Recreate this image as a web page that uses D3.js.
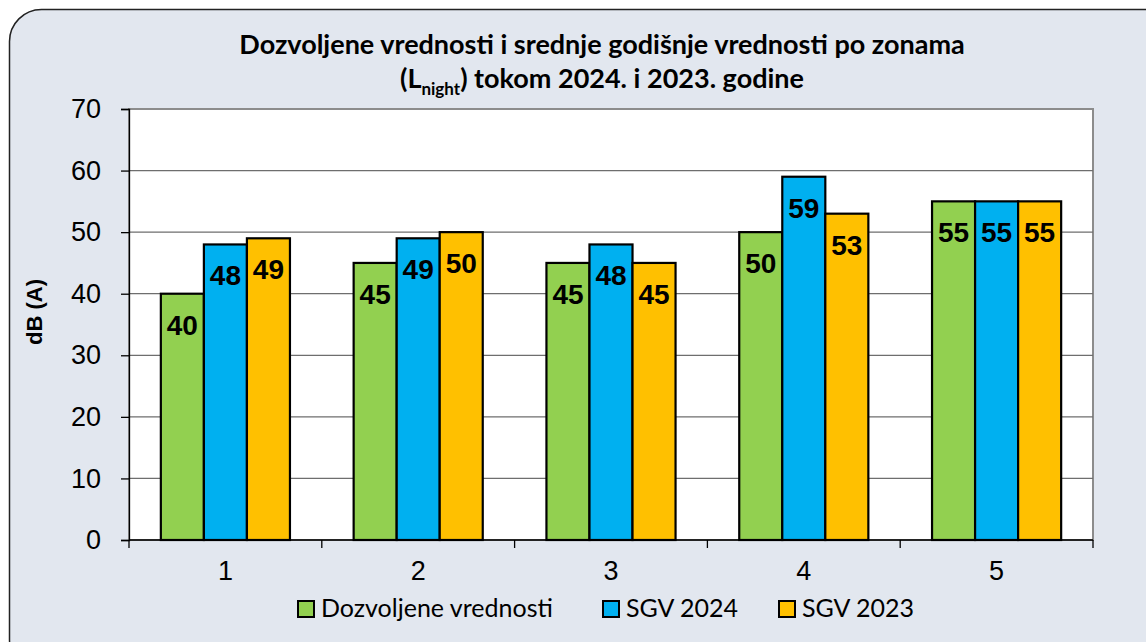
<!DOCTYPE html>
<html>
<head>
<meta charset="utf-8">
<script src="https://cdn.jsdelivr.net/npm/d3@7"></script>
<style>
  html, body { margin: 0; padding: 0; background: #fff; }
  svg { display: block; }
</style>
</head>
<body>
<div id="chart"></div>
<script>
// zones on the x axis
var zones = ["1", "2", "3", "4", "5"];
// series
var seriesNames = ["Dozvoljene vrednosti", "SGV 2024", "SGV 2023"];
var dozvoljene = [40, 45, 45, 50, 55];
var sgv2024 = [48, 49, 48, 59, 55];
var sgv2023 = [49, 50, 45, 53, 55];
var yTicks = [0, 10, 20, 30, 40, 50, 60, 70];
var colors = ["#92D050", "#00B0F0", "#FFC000"];

var W = 1146, H = 642;
var margin = {top: 109, right: 53, bottom: 102, left: 129},
    width = W - margin.left - margin.right,
    height = H - margin.top - margin.bottom;

var svg = d3.select("#chart").append("svg")
    .attr("width", W)
    .attr("height", H);

// panel background
svg.append("rect")
    .attr("x", 9.5).attr("y", 9.5)
    .attr("width", W + 20).attr("height", H + 20)
    .attr("rx", 32).attr("ry", 32)
    .style("fill", "#E2E7EF")
    .style("stroke", "#222")
    .style("stroke-width", 1.5);

// title
var title = svg.append("text")
    .attr("text-anchor", "middle")
    .style("font-family", "Lato, 'Open Sans', sans-serif")
    .style("font-weight", "bold")
    .style("font-size", "27px")
    .style("fill", "#000");
title.append("tspan").attr("x", 602).attr("y", 54)
    .text("Dozvoljene vrednosti i srednje godišnje vrednosti po zonama");
var t2 = title.append("tspan").attr("x", 602).attr("y", 88);
t2.append("tspan").text("(L");
t2.append("tspan").attr("dy", 7).style("font-size", "17px").text("night");
t2.append("tspan").attr("dy", -7).text(") tokom 2024. i 2023. godine");

var g = svg.append("g")
    .attr("transform", "translate(" + margin.left + "," + margin.top + ")");

// plot area
g.append("rect")
    .attr("width", width).attr("height", height)
    .style("fill", "#fff")
    .style("stroke", "#8c8c8c")
    .style("stroke-width", 2);

var x0 = d3.scaleBand().domain(zones).range([0, width]);
var x1 = d3.scaleBand().domain(seriesNames).range([0, x0.bandwidth()])
    .paddingInner(0).paddingOuter(0.74);
var y = d3.scaleLinear().domain([0, 70]).range([height, 0]);

// gridlines
g.append("g").selectAll("line")
    .data(yTicks.filter(function(d) { return d > 0 && d < 70; }))
    .enter().append("line")
    .attr("x1", 0).attr("x2", width)
    .attr("y1", function(d) { return y(d); })
    .attr("y2", function(d) { return y(d); })
    .style("stroke", "#6e6e6e")
    .style("stroke-width", 1.3);

// y axis
var yAxis = g.append("g")
    .call(d3.axisLeft(y).tickValues(yTicks).tickSize(8).tickPadding(20));
yAxis.select(".domain").style("stroke", "#000").style("stroke-width", 1.3);
yAxis.selectAll(".tick line").style("stroke", "#000").style("stroke-width", 1.3);
yAxis.selectAll("text")
    .style("font-family", "Arial, 'Liberation Sans', sans-serif")
    .style("font-size", "27px")
    .style("fill", "#000");

// x axis, ticks at category boundaries
var xAxis = g.append("g")
    .attr("transform", "translate(0," + height + ")");
xAxis.append("line")
    .attr("x1", 0).attr("x2", width)
    .style("stroke", "#000").style("stroke-width", 1.3);
xAxis.selectAll("line.tk")
    .data(zones.concat(["end"]))
    .enter().append("line")
    .attr("class", "tk")
    .attr("x1", function(d) { return d == "end" ? width : x0(d); })
    .attr("x2", function(d) { return d == "end" ? width : x0(d); })
    .attr("y1", 0).attr("y2", 8)
    .style("stroke", "#000").style("stroke-width", 1.3);
xAxis.selectAll("text")
    .data(zones)
    .enter().append("text")
    .attr("x", function(d) { return x0(d) + x0.bandwidth() / 2; })
    .attr("y", 40)
    .attr("text-anchor", "middle")
    .style("font-family", "Arial, 'Liberation Sans', sans-serif")
    .style("font-size", "27px")
    .text(function(d) { return d; });

// bars
var rows = zones.map(function(z, i) {
  return {zone: z, values: [
    {key: seriesNames[0], value: dozvoljene[i], color: colors[0]},
    {key: seriesNames[1], value: sgv2024[i], color: colors[1]},
    {key: seriesNames[2], value: sgv2023[i], color: colors[2]}
  ]};
});

var groups = g.selectAll("g.zone")
    .data(rows)
    .enter().append("g")
    .attr("class", "zone")
    .attr("transform", function(d) { return "translate(" + x0(d.zone) + ",0)"; });

groups.selectAll("rect")
    .data(function(d) { return d.values; })
    .enter().append("rect")
    .attr("x", function(d) { return x1(d.key); })
    .attr("y", function(d) { return y(d.value); })
    .attr("width", x1.bandwidth())
    .attr("height", function(d) { return height - y(d.value); })
    .style("fill", function(d) { return d.color; })
    .style("stroke", "#000")
    .style("stroke-width", 2.2);

groups.selectAll("text")
    .data(function(d) { return d.values; })
    .enter().append("text")
    .attr("x", function(d) { return x1(d.key) + x1.bandwidth() / 2; })
    .attr("y", function(d) { return y(d.value) + 41; })
    .attr("text-anchor", "middle")
    .style("font-family", "Arial, 'Liberation Sans', sans-serif")
    .style("font-weight", "bold")
    .style("font-size", "28px")
    .style("fill", "#000")
    .text(function(d) { return d.value; });

// y axis title
svg.append("text")
    .attr("transform", "translate(42,312) rotate(-90)")
    .attr("text-anchor", "middle")
    .style("font-family", "Arial, 'Liberation Sans', sans-serif")
    .style("font-weight", "bold")
    .style("font-size", "22px")
    .text("dB (A)");

// legend
var legendX = [297, 602, 778];
var legend = svg.selectAll("g.legend")
    .data(seriesNames)
    .enter().append("g")
    .attr("class", "legend")
    .attr("transform", function(d, i) { return "translate(" + legendX[i] + ",600)"; });
legend.append("rect")
    .attr("x", 1).attr("y", 1)
    .attr("width", 16).attr("height", 16)
    .style("fill", function(d, i) { return colors[i]; })
    .style("stroke", "#000")
    .style("stroke-width", 2);
legend.append("text")
    .attr("x", 24).attr("y", 17)
    .style("font-family", "Lato, 'Open Sans', sans-serif")
    .style("font-size", "25px")
    .style("fill", "#000")
    .text(function(d) { return d; });
</script>
</body>
</html>
